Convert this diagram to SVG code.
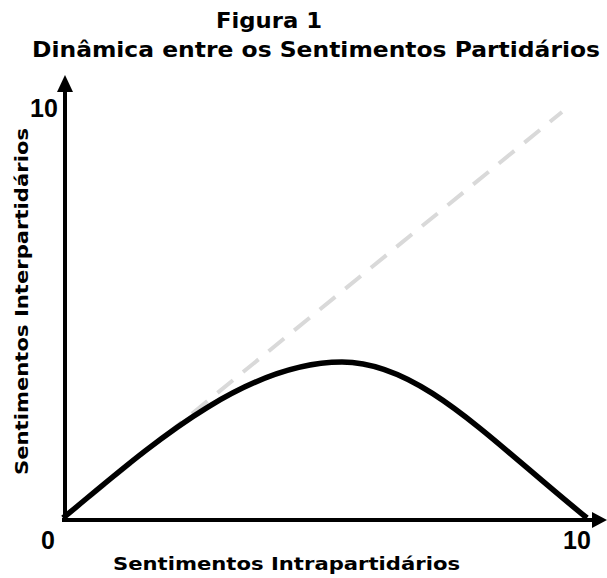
<svg xmlns="http://www.w3.org/2000/svg" width="607" height="578" viewBox="0 0 607 578">
<style>
.t{font-family:"DejaVu Sans",Verdana,sans-serif;font-weight:bold;fill:#000}
.n{font-family:"Liberation Sans",Arial,sans-serif;font-weight:bold;font-size:25px;fill:#000}
.ax{stroke:#000;stroke-width:4;fill:none}
</style>
<rect width="607" height="578" fill="#fff"/>
<g id="title">
<text class="t" x="216" y="28" font-size="22" textLength="106" lengthAdjust="spacingAndGlyphs">Figura 1</text>
<text class="t" x="32" y="57" font-size="22" textLength="568" lengthAdjust="spacingAndGlyphs">Dinâmica entre os Sentimentos Partidários</text>
</g>
<g id="diagonal">
<line x1="64" y1="518" x2="562" y2="112" stroke="#d9d9d9" stroke-width="4" stroke-dasharray="20,13"/>
</g>
<g id="axes">
<line class="ax" x1="65" y1="520" x2="65" y2="88"/>
<polygon points="65,75 57,92 73,92" fill="#000"/>
<line class="ax" x1="62" y1="520" x2="594" y2="520"/>
<polygon points="607,520 592,512 592,528" fill="#000"/>
</g>
<g id="curve">
<path d="M63,518 C140,455 240,362 342,362 C420,362 490,440 587,518" fill="none" stroke="#000" stroke-width="5.5"/>
</g>
<g id="labels">
<text class="n" x="30" y="117">10</text>
<text class="n" x="41" y="549">0</text>
<text class="n" x="563" y="549">10</text>
<text class="t" x="113" y="570" font-size="18.5" textLength="347" lengthAdjust="spacingAndGlyphs">Sentimentos Intrapartidários</text>
<text class="t" transform="translate(28,475) rotate(-90)" font-size="18.5" textLength="347" lengthAdjust="spacingAndGlyphs">Sentimentos Interpartidários</text>
</g>
</svg>
